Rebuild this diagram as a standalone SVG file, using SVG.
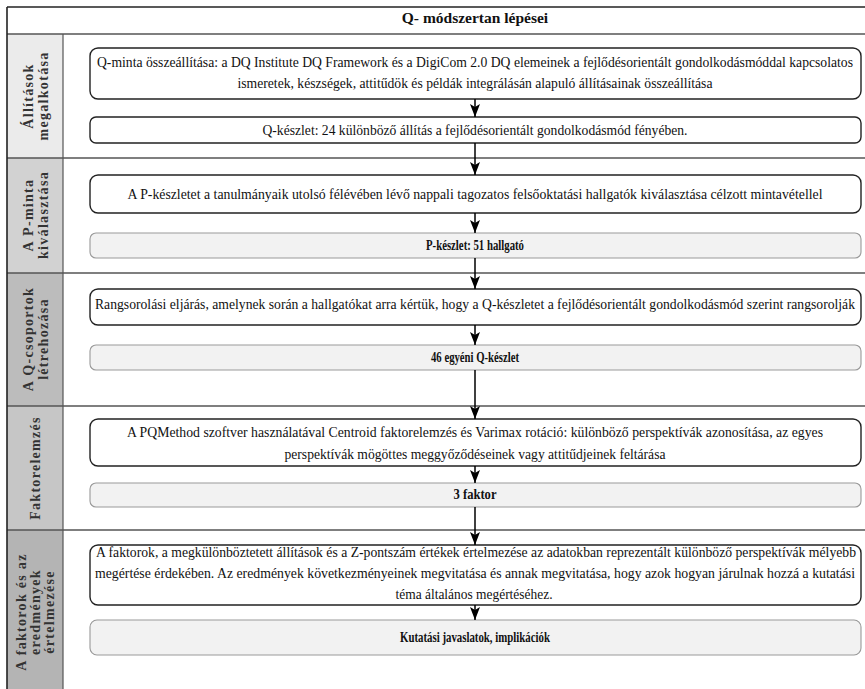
<svg xmlns="http://www.w3.org/2000/svg" width="865" height="689" viewBox="0 0 865 689">
<defs>
<style>
.t{font-family:"Liberation Serif","Times New Roman",serif;font-size:13.6px;fill:#111;text-anchor:middle}
.b{font-weight:bold;font-size:14.5px}
.lab{font-family:"Liberation Serif","Times New Roman",serif;font-size:14px;font-weight:bold;fill:#333;text-anchor:middle;letter-spacing:1.3px}
.wb{fill:#fff;stroke:#222;stroke-width:1.4}
.gb{fill:#f2f2f2;stroke:#999;stroke-width:1.1}
.sec{stroke:#555;stroke-width:1.5}
.con{stroke:#000;stroke-width:1.5;fill:none;marker-end:url(#ah)}
</style>
<marker id="ah" markerUnits="userSpaceOnUse" markerWidth="14" markerHeight="12" refX="13" refY="5" orient="auto">
<path d="M0,0 L13,5 L0,10 L3,5 z" fill="#000"/>
</marker>
</defs>
<rect x="0" y="0" width="865" height="689" fill="#fff"/>
<g id="lanes">
<rect x="7" y="34" width="56" height="124" fill="#ebebeb"/>
<rect x="7" y="158" width="56" height="115" fill="#d2d2d2"/>
<rect x="7" y="273" width="56" height="133" fill="#bcbcbc"/>
<rect x="7" y="406" width="56" height="124" fill="#c6c6c6"/>
<rect x="7" y="530" width="56" height="159" fill="#b4b4b4"/>
<line class="sec" x1="7" y1="34" x2="866" y2="34" stroke="#888"/>
<line class="sec" x1="7" y1="158" x2="866" y2="158"/>
<line class="sec" x1="7" y1="273" x2="866" y2="273"/>
<line class="sec" x1="7" y1="406" x2="866" y2="406"/>
<line class="sec" x1="7" y1="530" x2="866" y2="530"/>
<line x1="63" y1="34" x2="63" y2="689" stroke="#555" stroke-width="1.2"/>
<line x1="7" y1="7" x2="866" y2="7" stroke="#222" stroke-width="1.6"/>
<line x1="7" y1="7" x2="7" y2="689" stroke="#222" stroke-width="1.6"/>
</g>
<g id="title"><text class="t b" x="475" y="23" style="font-size:15.5px">Q- módszertan lépései</text></g>
<g id="lane1-label"><text class="lab" transform="translate(0,96) rotate(-90)"><tspan x="0" y="33">Állítások</tspan><tspan x="0" y="48">megalkotása</tspan></text></g>
<g id="lane2-label"><text class="lab" transform="translate(0,215) rotate(-90)"><tspan x="0" y="33">A P-minta</tspan><tspan x="0" y="48">kiválasztása</tspan></text></g>
<g id="lane3-label"><text class="lab" transform="translate(0,339) rotate(-90)"><tspan x="0" y="33">A Q-csoportok</tspan><tspan x="0" y="48">létrehozása</tspan></text></g>
<g id="lane4-label"><text class="lab" transform="translate(0,468) rotate(-90)"><tspan x="0" y="40">Faktorelemzés</tspan></text></g>
<g id="lane5-label"><text class="lab" transform="translate(0,612) rotate(-90)"><tspan x="0" y="26">A faktorok és az</tspan><tspan x="0" y="40">eredmények</tspan><tspan x="0" y="54">értelmezése</tspan></text></g>

<g id="n1"><rect class="wb" x="90" y="48" width="771" height="51" rx="8"/>
<text class="t" x="475" y="67" textLength="756" lengthAdjust="spacingAndGlyphs">Q-minta összeállítása: a DQ Institute DQ Framework és a DigiCom 2.0 DQ elemeinek a fejlődésorientált gondolkodásmóddal kapcsolatos</text>
<text class="t" x="475" y="88" textLength="475" lengthAdjust="spacingAndGlyphs">ismeretek, készségek, attitűdök és példák integrálásán alapuló állításainak összeállítása</text></g>
<g id="n2"><rect class="wb" x="90" y="117" width="771" height="26" rx="6"/>
<text class="t" x="475" y="135" textLength="425" lengthAdjust="spacingAndGlyphs">Q-készlet: 24 különböző állítás a fejlődésorientált gondolkodásmód fényében.</text></g>
<g id="n3"><rect class="wb" x="90" y="175" width="771" height="38" rx="8"/>
<text class="t" x="475" y="199" textLength="695" lengthAdjust="spacingAndGlyphs">A P-készletet a tanulmányaik utolsó félévében lévő nappali tagozatos felsőoktatási hallgatók kiválasztása célzott mintavétellel</text></g>
<g id="n4"><rect class="gb" x="90" y="233" width="771" height="25" rx="6"/>
<text class="t b" x="475" y="250" textLength="98" lengthAdjust="spacingAndGlyphs">P-készlet: 51 hallgató</text></g>
<g id="n5"><rect class="wb" x="90" y="289" width="771" height="36" rx="8"/>
<text class="t" x="475" y="309" textLength="760" lengthAdjust="spacingAndGlyphs">Rangsorolási eljárás, amelynek során a hallgatókat arra kértük, hogy a Q-készletet a fejlődésorientált gondolkodásmód szerint rangsorolják</text></g>
<g id="n6"><rect class="gb" x="90" y="345" width="771" height="25" rx="6"/>
<text class="t b" x="475" y="362" textLength="88" lengthAdjust="spacingAndGlyphs">46 egyéni Q-készlet</text></g>
<g id="n7"><rect class="wb" x="90" y="419" width="771" height="47" rx="8"/>
<text class="t" x="475" y="437" textLength="696" lengthAdjust="spacingAndGlyphs">A PQMethod szoftver használatával Centroid faktorelemzés és Varimax rotáció: különböző perspektívák azonosítása, az egyes</text>
<text class="t" x="475" y="459" textLength="381" lengthAdjust="spacingAndGlyphs">perspektívák mögöttes meggyőződéseinek vagy attitűdjeinek feltárása</text></g>
<g id="n8"><rect class="gb" x="90" y="483" width="771" height="24" rx="6"/>
<text class="t b" x="475" y="499" textLength="43" lengthAdjust="spacingAndGlyphs">3 faktor</text></g>
<g id="n9"><rect class="wb" x="90" y="545" width="771" height="60" rx="8"/>
<text class="t" x="476" y="557" textLength="760" lengthAdjust="spacingAndGlyphs">A faktorok, a megkülönböztetett állítások és a Z-pontszám értékek értelmezése az adatokban reprezentált különböző perspektívák mélyebb</text>
<text class="t" x="475" y="578" textLength="760" lengthAdjust="spacingAndGlyphs">megértése érdekében. Az eredmények következményeinek megvitatása és annak megvitatása, hogy azok hogyan járulnak hozzá a kutatási</text>
<text class="t" x="474" y="599" textLength="157" lengthAdjust="spacingAndGlyphs">téma általános megértéséhez.</text></g>
<g id="n10"><rect class="gb" x="90" y="620" width="771" height="35" rx="7"/>
<text class="t b" x="475" y="642" textLength="150" lengthAdjust="spacingAndGlyphs">Kutatási javaslatok, implikációk</text></g>

<g id="connectors">
<line class="con" x1="475" y1="99" x2="475" y2="117"/>
<line class="con" x1="475" y1="143" x2="475" y2="175"/>
<line class="con" x1="475" y1="213" x2="475" y2="233"/>
<line class="con" x1="475" y1="258" x2="475" y2="289"/>
<line class="con" x1="475" y1="325" x2="475" y2="345"/>
<line class="con" x1="475" y1="370" x2="475" y2="419"/>
<line class="con" x1="475" y1="466" x2="475" y2="483"/>
<line class="con" x1="475" y1="507" x2="475" y2="545"/>
<line class="con" x1="475" y1="605" x2="475" y2="620"/>
</g>
</svg>
